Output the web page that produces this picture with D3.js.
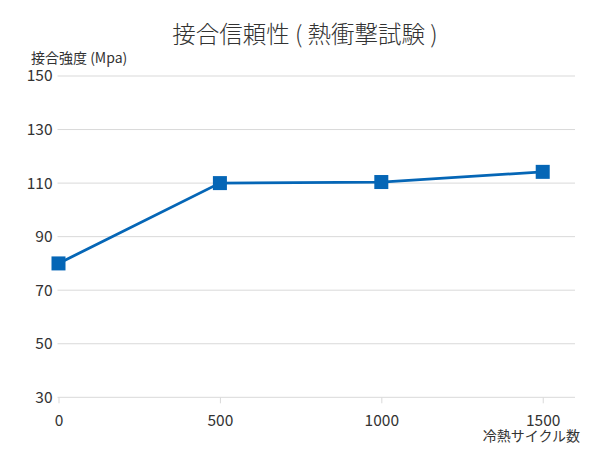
<!DOCTYPE html>
<html><head><meta charset="utf-8">
<script src="https://cdn.jsdelivr.net/npm/d3@7"></script>
<style>body{margin:0;background:#fff}svg text{font-family:"Noto Sans CJK JP","Noto Sans",sans-serif}</style>
</head><body>
<svg id="c" width="606" height="457"></svg>
<script>
const cycles = [0, 500, 1000, 1500];
const strength = [80, 110, 110.4, 114.2];
const yTicks = [30, 50, 70, 90, 110, 130, 150];
const xTicks = [0, 500, 1000, 1500];
const title = "接合信頼性 ( 熱衝撃試験 )";
const yTitle = "接合強度 (Mpa)";
const xTitle = "冷熱サイクル数";

const svg = d3.select("#c");
const x = d3.scaleLinear().domain([0, 1600]).range([58.5, 575]);
const y = d3.scaleLinear().domain([30, 150]).range([397.3, 76]);
const color = "#0566b6";

// gridlines
svg.append("g").selectAll("line").data(yTicks).join("line")
  .attr("x1", x(0) - 1).attr("x2", x(1600))
  .attr("y1", d => y(d)).attr("y2", d => y(d))
  .attr("stroke", "#d9d9d9").attr("stroke-width", 1);

// x axis
const xa = svg.append("g").attr("transform", `translate(0,${y(30)})`)
  .call(d3.axisBottom(x).tickValues(xTicks).tickSize(6).tickPadding(0).tickFormat(d3.format("d")));
xa.select(".domain").remove();
xa.selectAll(".tick line").attr("stroke", "#d9d9d9");
xa.selectAll(".tick text").attr("fill", "#333").attr("font-size", 15.5).attr("dy", null).attr("y", 29);

// y axis labels
const ya = svg.append("g").attr("transform", `translate(${x(0) - 1},0)`)
  .call(d3.axisLeft(y).tickValues(yTicks).tickSize(0).tickPadding(5));
ya.select(".domain").remove();
ya.selectAll(".tick text").attr("fill", "#333").attr("font-size", 15.5);

// line
const pts = cycles.map((c, i) => [c, strength[i]]);
svg.append("path").datum(pts)
  .attr("fill", "none").attr("stroke", color).attr("stroke-width", 2.8)
  .attr("d", d3.line().x(d => x(d[0])).y(d => y(d[1])));

const s = 14;
svg.append("g").selectAll("rect").data(pts).join("rect")
  .attr("x", d => x(d[0]) - s / 2).attr("y", d => y(d[1]) - s / 2)
  .attr("width", s).attr("height", s).attr("fill", color);

svg.append("text").attr("x", 305).attr("y", 43).attr("text-anchor", "middle")
  .attr("font-size", 23.5).attr("fill", "#333").attr("font-weight", 300).text(title);
svg.append("text").attr("x", 31).attr("y", 63)
  .attr("font-size", 14).attr("fill", "#333").text(yTitle);
svg.append("text").attr("x", 580).attr("y", 441).attr("text-anchor", "end")
  .attr("font-size", 14).attr("fill", "#333").text(xTitle);
</script>
</body></html>
